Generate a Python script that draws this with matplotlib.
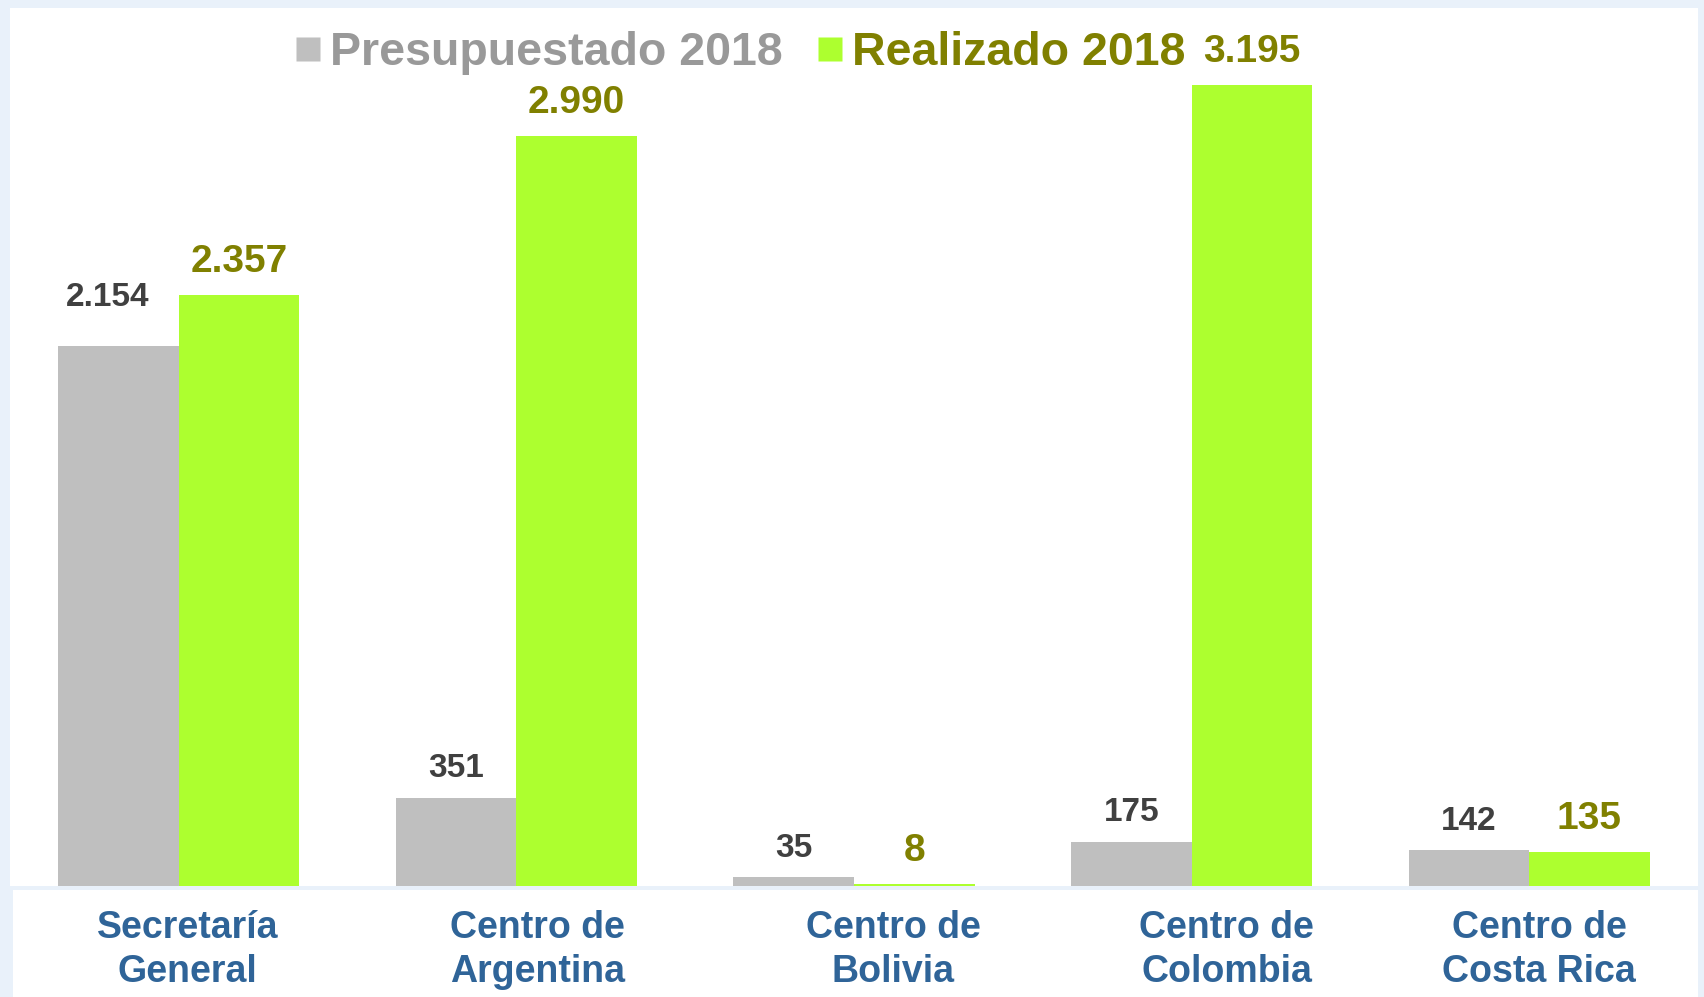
import matplotlib.pyplot as plt
import matplotlib.transforms as mtransforms
from matplotlib.lines import Line2D
from matplotlib.patches import Rectangle

# Datos del gráfico
categorias = ['Secretaría\nGeneral', 'Centro de\nArgentina', 'Centro de\nBolivia',
              'Centro de\nColombia', 'Centro de\nCosta Rica']
presupuestado = [2154, 351, 35, 175, 142]
realizado = [2357, 2990, 8, 3195, 135]
series = ['Presupuestado 2018', 'Realizado 2018']

c_gris = '#BFBFBF'
c_verde = '#ADFF2F'
c_txt_gris = '#404040'
c_txt_verde = '#808000'
c_cat = '#2F6498'

plt.rcParams['font.family'] = ['Liberation Sans', 'DejaVu Sans']
plt.rcParams['font.weight'] = 'bold'

W, H = 1704, 997
fig = plt.figure(figsize=(W / 100, H / 100), dpi=100)
fig.patch.set_facecolor('#E9F1FA')

# zona blanca de las etiquetas
fig.patches.append(Rectangle((13 / W, 0), 1685 / W, 107 / H, transform=fig.transFigure,
                             facecolor='white', edgecolor='none', zorder=-5))

ax = fig.add_axes([10 / W, 111 / H, 1688 / W, 878 / H])
ax.set_facecolor('white')

x = list(range(len(categorias)))
ancho = 0.357
xp = [i - ancho / 2 for i in x]
xr = [i + ancho / 2 for i in x]
ax.bar(xp, presupuestado, width=ancho, color=c_gris)
ax.bar(xr, realizado, width=ancho, color=c_verde)

def fmt(v):
    return f'{v:,}'.replace(',', '.')

for i, v in enumerate(presupuestado):
    # la etiqueta de la barra mayor está algo desplazada en el original
    dx, dy = (-8, 14) if v == max(presupuestado) else (0, 0)
    ax.annotate(fmt(v), (xp[i], v), xytext=(dx, 21 + dy), textcoords='offset points',
                ha='center', va='center', fontsize=24, color=c_txt_gris, fontweight='bold')
for i, v in enumerate(realizado):
    ax.annotate(fmt(v), (xr[i], v), xytext=(0, 24), textcoords='offset points',
                ha='center', va='center', fontsize=28, color=c_txt_verde, fontweight='bold')

ax.set_xlim(-0.5, 4.5)
ax.set_ylim(0, 3195 * 878 / 801)
ax.set_yticks([])
ax.set_xticks(x)
ax.set_xticklabels(categorias, fontsize=27, color=c_cat, fontweight='bold', linespacing=1.3)
ax.tick_params(axis='x', length=0, pad=17)
for s in ax.spines.values():
    s.set_visible(False)

# desplazamiento horizontal de las etiquetas de categoría (px)
desplaz = [9, 21, 39, 35, 10]
for lab, d in zip(ax.get_xticklabels(), desplaz):
    lab.set_transform(lab.get_transform() + mtransforms.ScaledTranslation(d / 100, 0, fig.dpi_scale_trans))

handles = [Line2D([], [], marker='s', linestyle='none', markersize=17,
                  markerfacecolor=c, markeredgecolor='none') for c in (c_gris, c_verde)]
fig.legend(handles, series, loc='center', bbox_to_anchor=(739 / W, 1 - 53 / H), ncol=2,
           frameon=False, prop={'size': 33.5, 'weight': 'bold'}, handlelength=0.65,
           labelcolor=['#999999', c_txt_verde], handletextpad=0.15, columnspacing=0.7)

fig.savefig('out.png', dpi=100, facecolor=fig.get_facecolor())
